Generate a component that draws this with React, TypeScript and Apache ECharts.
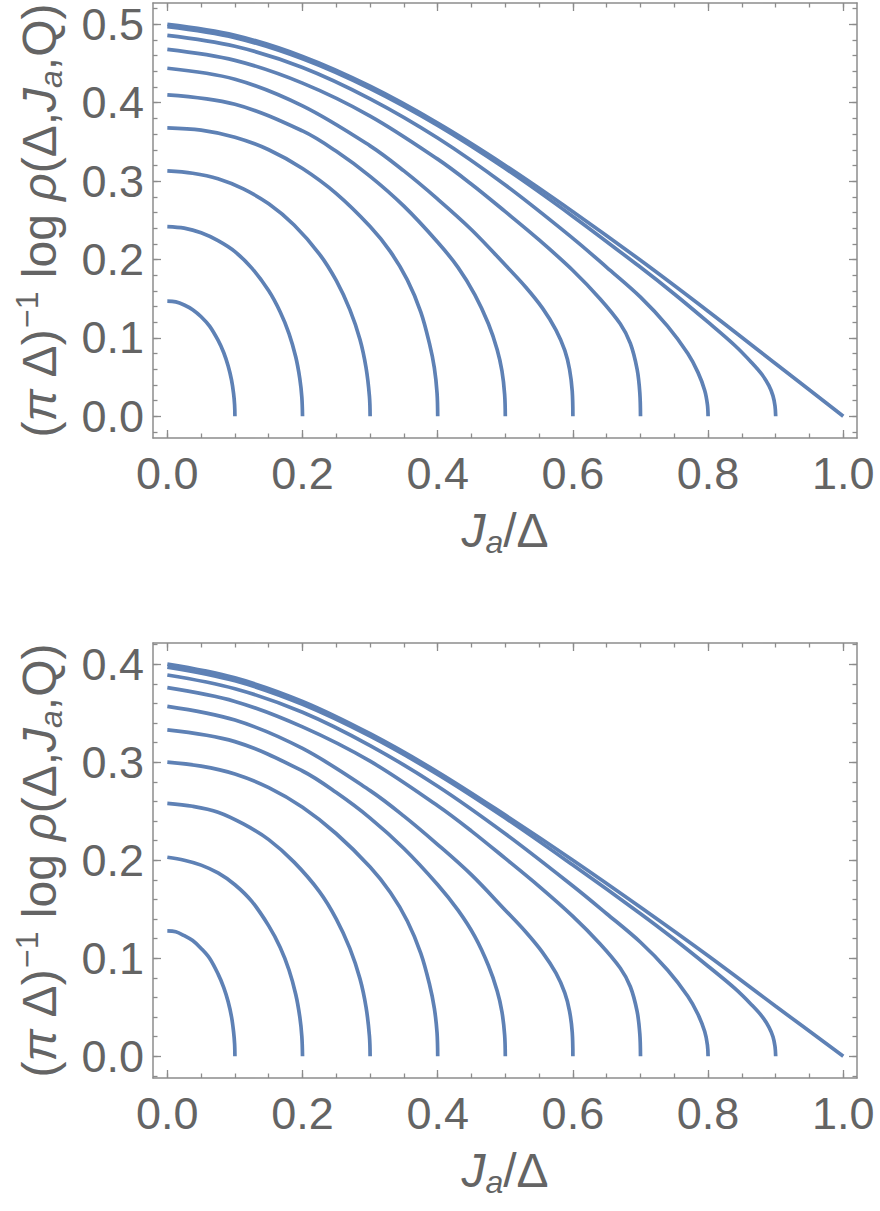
import React, { useEffect, useRef } from "react";
import * as echarts from "echarts";

// ---- tick values ----
const X_LABELS = [0, 0.2, 0.4, 0.6, 0.8, 1.0];
const X_MINOR = [0, 0.05, 0.1, 0.15, 0.2, 0.25, 0.3, 0.35, 0.4, 0.45, 0.5, 0.55, 0.6, 0.65, 0.7, 0.75, 0.8, 0.85, 0.9, 0.95, 1.0];
const Y_LABELS_TOP = [0, 0.1, 0.2, 0.3, 0.4, 0.5];
const Y_MINOR_TOP = [-0.02, 0, 0.02, 0.04, 0.06, 0.08, 0.1, 0.12, 0.14, 0.16, 0.18, 0.2, 0.22, 0.24, 0.26, 0.28, 0.3, 0.32, 0.34, 0.36, 0.38, 0.4, 0.42, 0.44, 0.46, 0.48, 0.5, 0.52];
const Y_LABELS_BOT = [0, 0.1, 0.2, 0.3, 0.4];
const Y_MINOR_BOT = [-0.02, 0, 0.02, 0.04, 0.06, 0.08, 0.1, 0.12, 0.14, 0.16, 0.18, 0.2, 0.22, 0.24, 0.26, 0.28, 0.3, 0.32, 0.34, 0.36, 0.38, 0.4, 0.42];

// ---- top panel curves (x = J_a/Δ, y = (πΔ)^-1 log ρ) ----
const TOP_C1 = [[0, 0.147], [0.0125, 0.146], [0.025, 0.142], [0.0375, 0.136], [0.05, 0.127], [0.0625, 0.115], [0.075, 0.097], [0.0835, 0.081], [0.09, 0.064], [0.095, 0.046], [0.098, 0.029], [0.0995, 0.0147], [0.1, 0]];
const TOP_C2 = [[0, 0.242], [0.025, 0.24], [0.05, 0.234], [0.075, 0.224], [0.1, 0.21], [0.125, 0.189], [0.15, 0.16], [0.167, 0.133], [0.18, 0.1055], [0.19, 0.0756], [0.196, 0.048], [0.199, 0.024], [0.2, 0]];
const TOP_C3 = [[0, 0.313], [0.0375, 0.31], [0.075, 0.303], [0.1125, 0.29], [0.15, 0.271], [0.1875, 0.244], [0.225, 0.207], [0.25, 0.173], [0.27, 0.136], [0.285, 0.098], [0.294, 0.062], [0.299, 0.0255], [0.3, 0]];
const TOP_C4 = [[0, 0.368], [0.05, 0.365], [0.1, 0.356], [0.15, 0.34], [0.2, 0.316], [0.25, 0.284], [0.3, 0.242], [0.33, 0.21], [0.355, 0.174], [0.375, 0.133], [0.388, 0.092], [0.395, 0.062], [0.399, 0.03], [0.4, 0]];
const TOP_C5 = [[0, 0.41], [0.1, 0.398], [0.2, 0.364], [0.25, 0.338], [0.3, 0.306], [0.35, 0.268], [0.4, 0.222], [0.43, 0.19], [0.455, 0.155], [0.475, 0.118], [0.488, 0.085], [0.495, 0.058], [0.499, 0.028], [0.5, 0]];
const TOP_C6 = [[0, 0.444], [0.1, 0.43], [0.2, 0.396], [0.3, 0.345], [0.35, 0.313], [0.4, 0.277], [0.45, 0.238], [0.5, 0.193], [0.53, 0.165], [0.555, 0.138], [0.575, 0.11], [0.588, 0.084], [0.595, 0.06], [0.599, 0.032], [0.6, 0]];
const TOP_C7 = [[0, 0.468], [0.1, 0.454], [0.2, 0.425], [0.3, 0.383], [0.4, 0.328], [0.45, 0.296], [0.5, 0.261], [0.55, 0.225], [0.6, 0.186], [0.64, 0.15], [0.67, 0.118], [0.685, 0.093], [0.695, 0.06], [0.699, 0.03], [0.7, 0]];
const TOP_C8 = [[0, 0.486], [0.1, 0.472], [0.2, 0.445], [0.3, 0.405], [0.4, 0.355], [0.5, 0.295], [0.6, 0.227], [0.65, 0.19], [0.7, 0.152], [0.74, 0.115], [0.77, 0.08], [0.785, 0.056], [0.795, 0.033], [0.799, 0.015], [0.8, 0]];
const TOP_C9 = [[0, 0.497], [0.1, 0.483], [0.2, 0.456], [0.3, 0.418], [0.4, 0.371], [0.5, 0.316], [0.6, 0.255], [0.7, 0.19], [0.75, 0.156], [0.8, 0.12], [0.84, 0.09], [0.865, 0.068], [0.88, 0.053], [0.89, 0.039], [0.896, 0.026], [0.899, 0.013], [0.9, 0]];
const TOP_C10 = [[0, 0.5], [0.1, 0.486], [0.2, 0.459], [0.3, 0.421], [0.4, 0.374], [0.5, 0.32], [0.6, 0.261], [0.7, 0.199], [0.8, 0.134], [0.9, 0.067], [1.0, 0]];

// ---- bottom panel curves ----
const BOT_C1 = [[0, 0.128], [0.0125, 0.127], [0.025, 0.123], [0.0375, 0.118], [0.05, 0.11], [0.0625, 0.1], [0.075, 0.084], [0.0835, 0.07], [0.09, 0.0555], [0.095, 0.04], [0.098, 0.025], [0.0995, 0.0128], [0.1, 0]];
const BOT_C2 = [[0, 0.203], [0.025, 0.2], [0.05, 0.195], [0.075, 0.187], [0.1, 0.175], [0.125, 0.158], [0.15, 0.133], [0.167, 0.111], [0.18, 0.088], [0.19, 0.063], [0.196, 0.04], [0.199, 0.02], [0.2, 0]];
const BOT_C3 = [[0, 0.258], [0.0375, 0.255], [0.075, 0.249], [0.1125, 0.237], [0.15, 0.221], [0.1875, 0.198], [0.225, 0.168], [0.25, 0.14], [0.27, 0.11], [0.285, 0.079], [0.294, 0.05], [0.299, 0.0206], [0.3, 0]];
const BOT_C4 = [[0, 0.3], [0.05, 0.296], [0.1, 0.288], [0.15, 0.274], [0.2, 0.254], [0.25, 0.227], [0.3, 0.193], [0.33, 0.167], [0.355, 0.138], [0.375, 0.105], [0.388, 0.073], [0.395, 0.049], [0.399, 0.024], [0.4, 0]];
const BOT_C5 = [[0, 0.333], [0.1, 0.321], [0.2, 0.291], [0.25, 0.269], [0.3, 0.243], [0.35, 0.212], [0.4, 0.175], [0.43, 0.149], [0.455, 0.122], [0.475, 0.0925], [0.488, 0.0666], [0.495, 0.0454], [0.499, 0.0219], [0.5, 0]];
const BOT_C6 = [[0, 0.357], [0.1, 0.343], [0.2, 0.314], [0.3, 0.271], [0.35, 0.245], [0.4, 0.216], [0.45, 0.185], [0.5, 0.149], [0.53, 0.127], [0.555, 0.106], [0.575, 0.0847], [0.588, 0.0646], [0.595, 0.0461], [0.599, 0.0246], [0.6, 0]];
const BOT_C7 = [[0, 0.376], [0.1, 0.362], [0.2, 0.336], [0.3, 0.301], [0.4, 0.2555], [0.45, 0.2297], [0.5, 0.2018], [0.55, 0.1733], [0.6, 0.1427], [0.64, 0.1148], [0.67, 0.09], [0.685, 0.0709], [0.695, 0.0457], [0.699, 0.0228], [0.7, 0]];
const BOT_C8 = [[0, 0.389], [0.1, 0.375], [0.2, 0.351], [0.3, 0.317], [0.4, 0.2755], [0.5, 0.227], [0.6, 0.1737], [0.65, 0.1454], [0.7, 0.1163], [0.74, 0.088], [0.77, 0.0612], [0.785, 0.0428], [0.795, 0.0252], [0.799, 0.0115], [0.8, 0]];
const BOT_C9 = [[0, 0.397], [0.1, 0.383], [0.2, 0.359], [0.3, 0.3265], [0.4, 0.2875], [0.5, 0.243], [0.6, 0.195], [0.7, 0.1454], [0.75, 0.1193], [0.8, 0.0918], [0.84, 0.0689], [0.865, 0.052], [0.88, 0.0405], [0.89, 0.0298], [0.896, 0.0199], [0.899, 0.0099], [0.9, 0]];
const BOT_C10 = [[0, 0.4], [0.1, 0.386], [0.2, 0.362], [0.3, 0.329], [0.4, 0.29], [0.5, 0.246], [0.6, 0.2], [0.7, 0.152], [0.8, 0.1025], [0.9, 0.051], [1.0, 0]];

const TOP_CURVES = [TOP_C1, TOP_C2, TOP_C3, TOP_C4, TOP_C5, TOP_C6, TOP_C7, TOP_C8, TOP_C9, TOP_C10];
const BOT_CURVES = [BOT_C1, BOT_C2, BOT_C3, BOT_C4, BOT_C5, BOT_C6, BOT_C7, BOT_C8, BOT_C9, BOT_C10];

const LINE_COLOR = "#5e81b5";
const FRAME_COLOR = "#8c8c8c";
const TEXT_COLOR = "#646464";
const FONT = "'Liberation Sans', Arial, sans-serif";

const X_RANGE = [-0.0212, 1.0203];
const Y_RANGE_TOP = [-0.0277, 0.5272];
const Y_RANGE_BOT = [-0.0222, 0.4216];

const TITLE_SIZE = 48;
const titleRich = {
  m: { fontSize: TITLE_SIZE, fontFamily: FONT, color: TEXT_COLOR, lineHeight: 56 },
  i: { fontSize: TITLE_SIZE, fontFamily: FONT, color: TEXT_COLOR, fontStyle: "italic", lineHeight: 56 },
  sub: { fontSize: 32, fontFamily: FONT, color: TEXT_COLOR, fontStyle: "italic", lineHeight: 26, verticalAlign: "bottom" },
  sup: { fontSize: 32, fontFamily: FONT, color: TEXT_COLOR, lineHeight: 26, verticalAlign: "top" },
};

function makeAxes(gridIndex: number, yRange: number[], yLabels: number[], yMinor: number[]) {
  const line = { show: true, onZero: false, lineStyle: { color: FRAME_COLOR, width: 1.5 } };
  const noLine = { show: false, onZero: false };
  const major = (vals: number[]) => ({ show: true, inside: true, length: 8, customValues: vals, lineStyle: { color: FRAME_COLOR, width: 1.3 } });
  const minor = (vals: number[]) => ({ show: true, inside: true, length: 4.5, customValues: vals, lineStyle: { color: FRAME_COLOR, width: 1.3 } });
  const base = { type: "value", gridIndex, splitLine: { show: false } };
  const xb = { ...base, min: X_RANGE[0], max: X_RANGE[1] };
  const yb = { ...base, min: yRange[0], max: yRange[1] };
  const xAxes = [
    {
      ...xb, position: "bottom", axisLine: line, axisTick: major(X_LABELS),
      axisLabel: { show: true, customValues: X_LABELS, formatter: (v: number) => v.toFixed(1), fontSize: 45, fontFamily: FONT, color: TEXT_COLOR, margin: 13 },
      name: "{i|J}{sub|a}{m|/Δ}", nameLocation: "middle", nameGap: 64,
      nameTextStyle: { rich: titleRich },
    },
    { ...xb, position: "bottom", axisLine: noLine, axisTick: minor(X_MINOR), axisLabel: { show: false } },
    { ...xb, position: "top", axisLine: line, axisTick: major(X_LABELS), axisLabel: { show: false } },
    { ...xb, position: "top", axisLine: noLine, axisTick: minor(X_MINOR), axisLabel: { show: false } },
  ];
  const yAxes = [
    {
      ...yb, position: "left", axisLine: line, axisTick: major(yLabels),
      axisLabel: { show: true, customValues: yLabels, formatter: (v: number) => v.toFixed(1), fontSize: 45, fontFamily: FONT, color: TEXT_COLOR, margin: 9 },
      name: "{m|(}{i|π}{m| Δ)}{sup|−1}{m| log }{i|ρ}{m|(Δ,}{i|J}{sub|a}{m|,Q)}",
      nameLocation: "middle", nameRotate: 90, nameGap: 86,
      nameTextStyle: { rich: titleRich },
    },
    { ...yb, position: "left", axisLine: noLine, axisTick: minor(yMinor), axisLabel: { show: false } },
    { ...yb, position: "right", axisLine: line, axisTick: major(yLabels), axisLabel: { show: false } },
    { ...yb, position: "right", axisLine: noLine, axisTick: minor(yMinor), axisLabel: { show: false } },
  ];
  return { xAxes, yAxes };
}

export default function App() {
  const ref = useRef<HTMLDivElement>(null);
  useEffect(() => {
    if (!ref.current) return;
    const chart = echarts.init(ref.current, undefined, { renderer: "svg" });
    const a0 = makeAxes(0, Y_RANGE_TOP, Y_LABELS_TOP, Y_MINOR_TOP);
    const a1 = makeAxes(1, Y_RANGE_BOT, Y_LABELS_BOT, Y_MINOR_BOT);
    const mk = (data: number[][], xi: number, yi: number) => ({
      type: "line", data, xAxisIndex: xi, yAxisIndex: yi, showSymbol: false, symbol: "none",
      smooth: 0.35, lineStyle: { color: LINE_COLOR, width: 3.7, cap: "butt" }, silent: true,
    });
    chart.setOption({
      animation: false,
      backgroundColor: "#ffffff",
      grid: [
        { left: 153, top: 3, width: 704, height: 435, containLabel: false },
        { left: 153, top: 643, width: 704, height: 435, containLabel: false },
      ],
      xAxis: [...a0.xAxes, ...a1.xAxes],
      yAxis: [...a0.yAxes, ...a1.yAxes],
      series: [
        ...TOP_CURVES.map((d) => mk(d, 0, 0)),
        ...BOT_CURVES.map((d) => mk(d, 4, 4)),
      ],
    });
    return () => chart.dispose();
  }, []);
  return <div ref={ref} style={{ position: "fixed", left: 0, top: 0, width: 880, height: 1211, background: "#fff" }} />;
}
